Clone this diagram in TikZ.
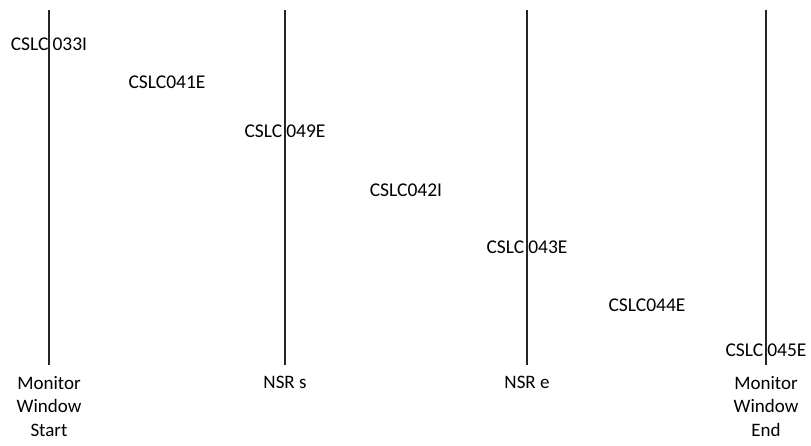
\documentclass[tikz,border=0pt]{standalone}
\usepackage{fontspec}
\setmainfont{Carlito}
\begin{document}
\begin{tikzpicture}[x=1pt,y=-1pt,
  tline/.style={line width=1.1pt,black!85},
  evt/.style={inner sep=0pt,font=\fontsize{19.5}{19.5}\selectfont},
  lab/.style={inner sep=0pt,align=center,font=\fontsize{19}{23.5}\selectfont,anchor=north}]
\useasboundingbox (0,0) rectangle (811,446);
% time lines
\foreach \n/\x in {ms/49,ns/285,ne/527,me/766}{
  \coordinate (\n t) at (\x,10);
  \coordinate (\n b) at (\x,365);
  \draw[tline] (\n t) -- (\n b);
}
% events
\node[evt] (e1) at (49,44) {CSLC\hspace{4pt}033I};
\node[evt] (e2) at (167,82) {CSLC041E};
\node[evt] (e3) at (285,131) {CSLC\hspace{4pt}049E};
\node[evt] (e4) at (406,190) {CSLC042I};
\node[evt] (e5) at (527,247) {CSLC\hspace{4pt}043E};
\node[evt] (e6) at (647,305) {CSLC044E};
\node[evt] (e7) at (766,350) {CSLC\hspace{4pt}045E};
% bottom labels
\node[lab] (l1) at (49,376) {Monitor\\Window\\Start};
\node[lab] (l2) at (285,376) {NSR s};
\node[lab] (l3) at (527,376) {NSR e};
\node[lab] (l4) at (766,376) {Monitor\\Window\\End};
\end{tikzpicture}
\end{document}
